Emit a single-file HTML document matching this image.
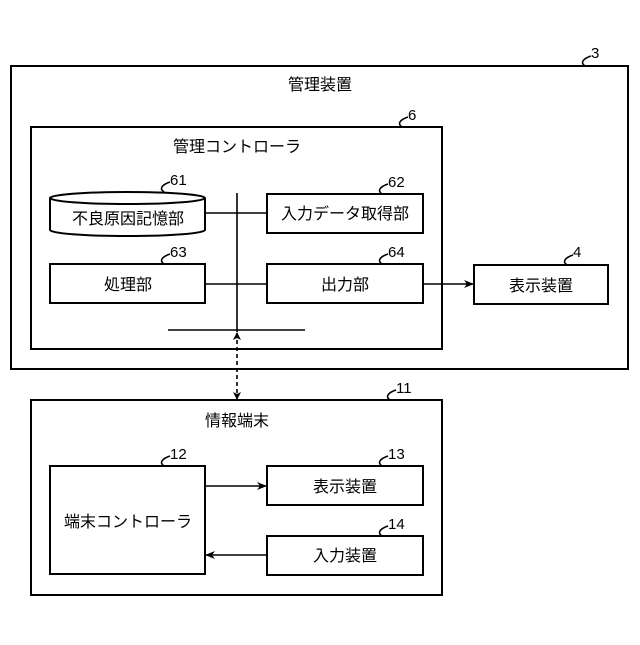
<!DOCTYPE html>
<html><head><meta charset="utf-8"><style>
body{margin:0;background:#fff}
svg text{font-family:"Liberation Sans","Noto Sans CJK JP",sans-serif;fill:#000}
</style></head><body>
<svg width="640" height="640" viewBox="0 0 640 640" xmlns="http://www.w3.org/2000/svg">
<defs>
<marker id="a" markerWidth="10" markerHeight="8" refX="9" refY="4" orient="auto" markerUnits="userSpaceOnUse"><path d="M0,0 L10,4 L0,8 L3,4 Z" fill="#000"/></marker>
<marker id="s" markerWidth="8" markerHeight="8" refX="7" refY="4" orient="auto-start-reverse" markerUnits="userSpaceOnUse"><path d="M0,0 L8,4 L0,8 L2,4 Z" fill="#000"/></marker>
</defs>
<g fill="none" stroke="#000" stroke-width="2">
<rect x="11" y="66" width="617" height="303"/>
<rect x="31" y="127" width="411" height="222"/>
<rect x="267" y="194" width="156" height="39"/>
<rect x="50" y="264" width="155" height="39"/>
<rect x="267" y="264" width="156" height="39"/>
<rect x="474" y="265" width="134" height="39"/>
<rect x="31" y="400" width="411" height="195"/>
<rect x="50" y="466" width="155" height="108"/>
<rect x="267" y="466" width="156" height="39"/>
<rect x="267" y="536" width="156" height="39"/>
<path d="M50,198 V230 A77.5,6 0 0 0 205,230 V198 A77.5,6 0 0 0 50,198 A77.5,6 0 0 0 205,198"/>
</g>
<g stroke="#000" stroke-width="1.6" fill="none">
<line x1="237" y1="193" x2="237" y2="332"/>
<line x1="168" y1="330" x2="305" y2="330"/>
<line x1="205" y1="213" x2="267" y2="213"/>
<line x1="205" y1="284" x2="267" y2="284"/>
<line x1="423" y1="284" x2="473" y2="284" marker-end="url(#a)"/>
<line x1="205" y1="486" x2="266" y2="486" marker-end="url(#a)"/>
<line x1="267" y1="555" x2="206" y2="555" marker-end="url(#a)"/>
<line x1="237" y1="333" x2="237" y2="399" stroke-dasharray="4,3" marker-start="url(#s)" marker-end="url(#s)"/>
<path d="M585,66 c-6,-4 0,-8 6,-10"/>
<path d="M402,127 c-6,-4 0,-8 6,-10"/>
<path d="M164,192 c-6,-4 0,-8 6,-10"/>
<path d="M382,194 c-6,-4 0,-8 6,-10"/>
<path d="M164,264 c-6,-4 0,-8 6,-10"/>
<path d="M382,264 c-6,-4 0,-8 6,-10"/>
<path d="M567,265 c-6,-4 0,-8 6,-10"/>
<path d="M390,400 c-6,-4 0,-8 6,-10"/>
<path d="M164,466 c-6,-4 0,-8 6,-10"/>
<path d="M382,466 c-6,-4 0,-8 6,-10"/>
<path d="M382,536 c-6,-4 0,-8 6,-10"/>
</g>
<g font-size="15">
<text x="591" y="58">3</text>
<text x="408" y="120">6</text>
<text x="170" y="185">61</text>
<text x="388" y="187">62</text>
<text x="170" y="257">63</text>
<text x="388" y="257">64</text>
<text x="573" y="257">4</text>
<text x="396" y="393">11</text>
<text x="170" y="459">12</text>
<text x="388" y="459">13</text>
<text x="388" y="529">14</text>
</g>
<g font-size="16" text-anchor="middle">
<text x="320" y="90">管理装置</text>
<text x="237" y="152">管理コントローラ</text>
<text x="128" y="224">不良原因記憶部</text>
<text x="345" y="219">入力データ取得部</text>
<text x="128" y="290">処理部</text>
<text x="345" y="290">出力部</text>
<text x="541" y="291">表示装置</text>
<text x="237" y="426">情報端末</text>
<text x="128" y="527">端末コントローラ</text>
<text x="345" y="492">表示装置</text>
<text x="345" y="561">入力装置</text>
</g>
</svg>
</body></html>
